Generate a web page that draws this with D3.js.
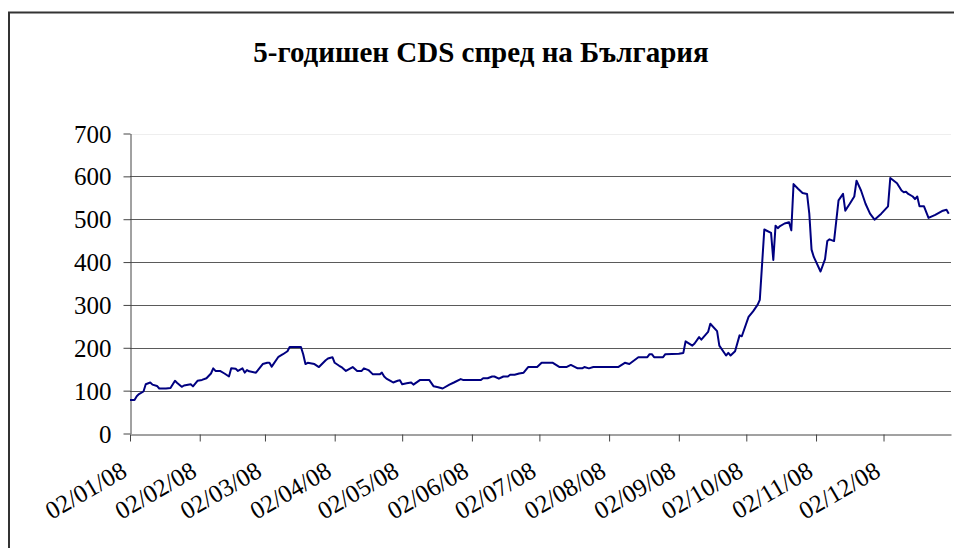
<!DOCTYPE html>
<meta charset="utf-8">
<script src="https://cdnjs.cloudflare.com/ajax/libs/d3/7.8.5/d3.min.js"></script>
<body style="margin:0">
<script>

// 5y CDS spread, Bulgaria, 2008 (bp)
var dates = [
  "2008-01-02","2008-01-04","2008-01-05","2008-01-06","2008-01-08","2008-01-09","2008-01-11","2008-01-12",
  "2008-01-14","2008-01-15","2008-01-18","2008-01-20","2008-01-22","2008-01-23","2008-01-25","2008-01-26",
  "2008-01-29","2008-01-30","2008-02-01","2008-02-03","2008-02-05","2008-02-07","2008-02-08","2008-02-09",
  "2008-02-11","2008-02-13","2008-02-15","2008-02-16","2008-02-18","2008-02-19","2008-02-21","2008-02-22",
  "2008-02-23","2008-02-24","2008-02-27","2008-03-01","2008-03-03","2008-03-04","2008-03-05","2008-03-08",
  "2008-03-10","2008-03-12","2008-03-13","2008-03-18","2008-03-19","2008-03-20","2008-03-21","2008-03-24",
  "2008-03-26","2008-03-29","2008-03-30","2008-04-01","2008-04-02","2008-04-04","2008-04-05","2008-04-07",
  "2008-04-10","2008-04-12","2008-04-14","2008-04-15","2008-04-17","2008-04-19","2008-04-22","2008-04-23",
  "2008-04-24","2008-04-25","2008-04-27","2008-04-28","2008-04-30","2008-05-01","2008-05-02","2008-05-04",
  "2008-05-06","2008-05-07","2008-05-10","2008-05-14","2008-05-16","2008-05-18","2008-05-20","2008-05-23",
  "2008-05-25","2008-05-28","2008-05-29","2008-06-06","2008-06-07","2008-06-09","2008-06-11","2008-06-12",
  "2008-06-14","2008-06-16","2008-06-18","2008-06-19","2008-06-21","2008-06-23","2008-06-25","2008-06-27",
  "2008-07-01","2008-07-03","2008-07-08","2008-07-11","2008-07-14","2008-07-16","2008-07-19","2008-07-21",
  "2008-07-22","2008-07-24","2008-07-26","2008-08-06","2008-08-09","2008-08-11","2008-08-15","2008-08-19",
  "2008-08-20","2008-08-21","2008-08-22","2008-08-26","2008-08-27","2008-09-02","2008-09-04","2008-09-05",
  "2008-09-08","2008-09-09","2008-09-11","2008-09-12","2008-09-15","2008-09-16","2008-09-19","2008-09-20",
  "2008-09-23","2008-09-24","2008-09-25","2008-09-27","2008-09-29","2008-09-30","2008-10-03","2008-10-05",
  "2008-10-07","2008-10-08","2008-10-10","2008-10-13","2008-10-14","2008-10-15","2008-10-16","2008-10-17",
  "2008-10-19","2008-10-21","2008-10-22","2008-10-23","2008-10-25","2008-10-27","2008-10-29","2008-10-30",
  "2008-10-31","2008-11-01","2008-11-04","2008-11-06","2008-11-07","2008-11-08","2008-11-10","2008-11-12",
  "2008-11-14","2008-11-15","2008-11-17","2008-11-19","2008-11-20","2008-11-22","2008-11-24","2008-11-26",
  "2008-11-28","2008-12-01","2008-12-04","2008-12-05","2008-12-08","2008-12-10","2008-12-11","2008-12-12",
  "2008-12-13","2008-12-15","2008-12-16","2008-12-17","2008-12-18","2008-12-20","2008-12-22","2008-12-25",
  "2008-12-28","2008-12-30","2008-12-31"
];

var spreads = [
  78, 78, 87, 92, 98, 115, 119, 114,
  111, 105, 105, 106, 123, 118, 109, 112,
  115, 110, 123, 125, 129, 140, 152, 146,
  146, 140, 133, 152, 151, 146, 152, 142,
  148, 145, 142, 162, 165, 165, 156, 179,
  185, 192, 202, 202, 185, 162, 165, 162,
  155, 171, 175, 178, 165, 158, 155, 146,
  155, 146, 146, 152, 148, 138, 138, 142,
  133, 128, 122, 119, 123, 124, 115, 117,
  119, 114, 125, 125, 110, 108, 105, 114,
  119, 127, 125, 125, 129, 129, 133, 133,
  128, 133, 133, 137, 137, 140, 142, 155,
  155, 165, 165, 155, 155, 160, 152, 152,
  155, 152, 155, 155, 165, 162, 178, 178,
  185, 185, 178, 178, 185, 186, 188, 215,
  205, 210, 225, 219, 237, 256, 239, 205,
  182, 188, 182, 192, 229, 227, 272, 285,
  300, 312, 476, 468, 405, 485, 479, 484,
  490, 493, 474, 582, 571, 561, 559, 513,
  429, 412, 378, 407, 449, 453, 449, 544,
  559, 520, 536, 553, 590, 567, 536, 513,
  499, 513, 530, 596, 584, 567, 563, 564,
  559, 553, 547, 553, 530, 530, 503, 510,
  519, 522, 513
];

var yTicks = [0, 100, 200, 300, 400, 500, 600, 700];
var monthTicks = ["2008-01-02","2008-02-02","2008-03-02","2008-04-02","2008-05-02","2008-06-02",
                  "2008-07-02","2008-08-02","2008-09-02","2008-10-02","2008-11-02","2008-12-02"];
var titleText = "5-годишен CDS спред на България";

var parse = d3.timeParse("%Y-%m-%d"),
    fmt = d3.timeFormat("%d/%m/%y");

var data = dates.map(function(d, i) { return {date: parse(d), value: spreads[i]}; });

var x = d3.scaleTime()
    .domain([parse("2008-01-02"), parse("2009-01-01")])
    .range([130, 951]);

var y = d3.scaleLinear()
    .domain([0, 700])
    .range([433.5, 133.5]);

var svg = d3.select("body").append("svg")
    .attr("width", 954)
    .attr("height", 548);

// outer chart frame
svg.append("path")
    .attr("d", "M9,548V12.5H954")
    .attr("fill", "none")
    .attr("stroke", "#333")
    .attr("stroke-width", 2);

// gridlines
svg.append("g").selectAll("line")
    .data(yTicks.slice(1))
  .enter().append("line")
    .attr("x1", x.range()[0])
    .attr("x2", x.range()[1])
    .attr("y1", function(d) { return Math.round(y(d)) + 0.5; })
    .attr("y2", function(d) { return Math.round(y(d)) + 0.5; })
    .attr("stroke", function(d) { return d === 700 ? "#eee" : "#5a5a5a"; });

var yAxis = svg.append("g")
    .attr("transform", "translate(130.5,0)")
    .call(d3.axisLeft(y).tickValues(yTicks).tickFormat(d3.format("d")).tickSize(7).tickPadding(12).tickSizeOuter(0));

var xAxis = svg.append("g")
    .attr("transform", "translate(0," + (Math.round(y(0)) + 0.5) + ")")
    .call(d3.axisBottom(x).tickValues(monthTicks.map(parse)).tickFormat(fmt).tickSize(7).tickSizeOuter(0));

svg.selectAll(".domain, .tick line").attr("stroke", "#444");

xAxis.selectAll("text")
    .attr("text-anchor", "end")
    .attr("y", 0)
    .attr("dy", 0)
    .attr("transform", "translate(-2,41) rotate(-30)");

yAxis.selectAll("text").attr("dy", "0.34em");

svg.selectAll(".tick text")
    .style("font-family", function() { return "'Liberation Serif'"; })
    .style("font-size", "25px");

svg.append("path")
    .datum(data)
    .attr("fill", "none")
    .attr("stroke", "#000080")
    .attr("stroke-width", 2)
    .attr("stroke-linejoin", "round")
    .attr("d", d3.line()
        .x(function(d) { return x(d.date); })
        .y(function(d) { return y(d.value); }));

svg.append("text")
    .attr("x", 481)
    .attr("y", 62)
    .attr("text-anchor", "middle")
    .style("font-family", function() { return "'Liberation Serif'"; })
    .style("font-size", "29px")
    .style("font-weight", "bold")
    .text(titleText);

</script>
</body>
